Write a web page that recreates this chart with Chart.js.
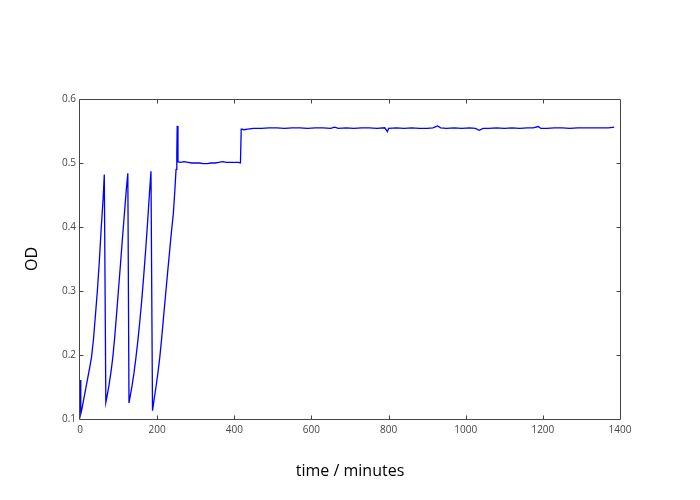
<!DOCTYPE html>
<html>
<head>
<meta charset="utf-8">
<script src="https://cdn.jsdelivr.net/npm/chart.js@4.4.1/dist/chart.umd.min.js"></script>
<style>
  html, body { margin: 0; padding: 0; background: #fff; }
  #wrap { width: 700px; height: 500px; }
</style>
</head>
<body>
<div id="wrap"><canvas id="c" width="700" height="500"></canvas></div>
<script>
// time in minutes
const time = [
  0, 2, 5, 10, 15, 20, 25, 30, 35, 40, 45, 50, 55, 60, 63,
  67, 70, 75, 80, 85, 90, 95, 100, 105, 110, 115, 120, 124,
  127, 130, 135, 140, 145, 150, 155, 160, 165, 170, 175, 180, 184,
  188, 192, 197, 202, 207, 212, 217, 222, 227, 232, 237, 242, 246, 249, 251, 252, 254,
  260, 270, 280, 290, 300, 310, 320, 330, 340, 350, 360, 370, 380, 390, 400, 410, 416,
  418, 420, 425, 435, 450, 470, 490, 510, 530, 550, 570, 590, 610, 630, 650, 660, 670,
  690, 710, 730, 750, 770, 790, 797, 800, 820, 840, 860, 880, 900, 915, 927, 935, 950,
  970, 990, 1010, 1025, 1035, 1045, 1060, 1080, 1100, 1120, 1140, 1160, 1175, 1188, 1195,
  1210, 1230, 1250, 1270, 1290, 1310, 1330, 1350, 1370, 1385
];
// optical density
const od = [
  0.161, 0.108, 0.116, 0.132, 0.148, 0.164, 0.180, 0.197, 0.225, 0.262, 0.300, 0.345, 0.398, 0.445, 0.482,
  0.126, 0.135, 0.152, 0.172, 0.196, 0.228, 0.265, 0.304, 0.342, 0.382, 0.420, 0.458, 0.484,
  0.125, 0.135, 0.152, 0.172, 0.196, 0.222, 0.252, 0.285, 0.322, 0.362, 0.405, 0.452, 0.487,
  0.113, 0.130, 0.150, 0.172, 0.197, 0.228, 0.262, 0.295, 0.328, 0.360, 0.392, 0.421, 0.458, 0.490, 0.515, 0.558, 0.502,
  0.501, 0.502, 0.501, 0.500, 0.500, 0.500, 0.499, 0.499, 0.500, 0.500, 0.501, 0.502, 0.501, 0.501, 0.501, 0.501, 0.500,
  0.553, 0.553, 0.552, 0.553, 0.554, 0.554, 0.555, 0.555, 0.554, 0.555, 0.555, 0.554, 0.555, 0.555, 0.554, 0.556, 0.554,
  0.555, 0.554, 0.555, 0.555, 0.554, 0.555, 0.549, 0.554, 0.555, 0.554, 0.555, 0.554, 0.554, 0.555, 0.558, 0.555, 0.554,
  0.555, 0.554, 0.555, 0.554, 0.551, 0.554, 0.554, 0.555, 0.554, 0.555, 0.554, 0.555, 0.555, 0.557, 0.554,
  0.554, 0.555, 0.555, 0.554, 0.555, 0.555, 0.555, 0.555, 0.555, 0.556
];
const xTicks = [0, 200, 400, 600, 800, 1000, 1200, 1400];
const yTicks = [0.1, 0.2, 0.3, 0.4, 0.5, 0.6];
const xTitle = 'time / minutes';
const yTitle = 'OD';

const points = time.map((t, i) => ({ x: t, y: od[i] }));

const frame = {
  id: 'frame',
  afterDraw(chart) {
    const { ctx, chartArea: a, scales: { x, y } } = chart;
    ctx.save();
    ctx.strokeStyle = '#444';
    ctx.lineWidth = 1;
    const L = Math.round(a.left) - 0.5, R = Math.round(a.right) + 0.5;
    const T = Math.round(a.top) + 0.5, B = Math.round(a.bottom) + 0.5;
    ctx.beginPath();
    ctx.rect(L, T, R - L, B - T);
    const tl = 4;
    xTicks.slice(1, -1).forEach(v => {
      const px = Math.round(x.getPixelForValue(v)) + 0.5;
      ctx.moveTo(px, T); ctx.lineTo(px, T + tl);
      ctx.moveTo(px, B); ctx.lineTo(px, B - tl);
    });
    yTicks.slice(1, -1).forEach(v => {
      const py = Math.round(y.getPixelForValue(v)) + 0.5;
      ctx.moveTo(L, py); ctx.lineTo(L + tl, py);
      ctx.moveTo(R, py); ctx.lineTo(R - tl, py);
    });
    ctx.stroke();
    ctx.restore();
  }
};

new Chart(document.getElementById('c'), {
  type: 'line',
  data: {
    datasets: [{
      data: points,
      borderColor: '#0000ff',
      borderWidth: 1.3,
      pointRadius: 0,
      fill: false,
      tension: 0
    }]
  },
  options: {
    responsive: false,
    animation: false,
    layout: { padding: { left: 0, right: 80, top: 99, bottom: 0 } },
    plugins: { legend: { display: false }, tooltip: { enabled: false } },
    scales: {
      x: {
        type: 'linear',
        min: 0, max: 1400,
        afterFit(s) { s.height = 81; },
        afterBuildTicks(s) { s.ticks = xTicks.map(v => ({ value: v })); },
        grid: { display: false, drawTicks: false },
        border: { display: false },
        ticks: {
          padding: 5,
          color: '#444',
          font: { family: '"Open Sans"', size: 10 },
          maxRotation: 0,
          callback: v => String(v)
        },
        title: {
          display: true, text: xTitle, color: '#000',
          font: { family: '"Open Sans"', size: 16 },
          padding: { top: 0, bottom: 19 }
        }
      },
      y: {
        type: 'linear',
        min: 0.1, max: 0.6,
        afterFit(s) { s.width = 80; },
        afterBuildTicks(s) { s.ticks = yTicks.map(v => ({ value: v })); },
        grid: { display: false, drawTicks: false },
        border: { display: false },
        ticks: {
          padding: 4,
          color: '#444',
          font: { family: '"Open Sans"', size: 10 },
          callback: v => Number(v).toFixed(1)
        },
        title: {
          display: true, text: yTitle, color: '#000',
          font: { family: '"Open Sans"', size: 16 },
          padding: { top: 23, bottom: 0 }
        }
      }
    }
  },
  plugins: [frame]
});
</script>
</body>
</html>
